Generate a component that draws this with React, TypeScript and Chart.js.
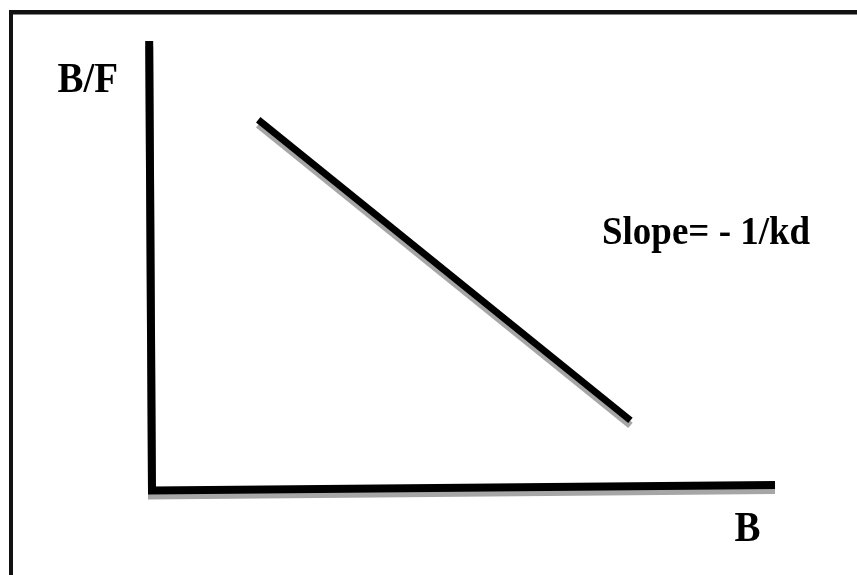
import React, { useEffect, useRef } from "react";
import { Chart, registerables } from "chart.js";

Chart.register(...registerables);

// Axes drawn as one polyline: top of the B/F axis -> origin -> right end of the B axis
const axisXs = [-0.45, 0, 100];
const axisYs = [100, 0, 1.2];

// Scatchard line (B/F vs B)
const lineXs = [17.05, 76.8];
const lineYs = [82.5, 15.6];

const yTitle = "B/F";
const xTitle = "B";
const slopeText = "Slope= - 1/kd";

const W = 857;
const H = 575;

const toPts = (xs: number[], ys: number[]) => xs.map((x, i) => ({ x, y: ys[i] }));

const decorPlugin = {
  id: "decor",
  beforeDraw(chart: any) {
    const ctx = chart.ctx as CanvasRenderingContext2D;
    ctx.save();
    ctx.fillStyle = "#ffffff";
    ctx.fillRect(0, 0, W, H);
    ctx.fillStyle = "#111111";
    ctx.fillRect(9, 10, W - 9, 4.5);
    ctx.fillRect(9, 10, 4, H - 10);
    ctx.restore();
  },
  beforeDatasetsDraw(chart: any) {
    const ctx = chart.ctx as CanvasRenderingContext2D;
    ctx.save();
    ctx.shadowColor = "#a6a6a6";
    ctx.shadowOffsetX = 0;
    ctx.shadowOffsetY = 5;
    ctx.shadowBlur = 0;
  },
  afterDatasetsDraw(chart: any) {
    chart.ctx.restore();
  },
  afterDraw(chart: any) {
    const ctx = chart.ctx as CanvasRenderingContext2D;
    const draw = (t: string, x: number, y: number, size: number) => {
      ctx.save();
      ctx.translate(x, y);
      ctx.scale(1, 1.08);
      ctx.font = `bold ${size}px "Liberation Serif", "Times New Roman", serif`;
      ctx.fillStyle = "#000";
      ctx.textBaseline = "alphabetic";
      ctx.textAlign = "left";
      ctx.fillText(t, 0, 0);
      ctx.restore();
    };
    draw(yTitle, 57.5, 92, 39);
    draw(slopeText, 602, 243.5, 37);
    draw(xTitle, 734.5, 540.5, 39);
  },
};

export default function App() {
  const ref = useRef<HTMLCanvasElement | null>(null);
  useEffect(() => {
    if (!ref.current) return;
    const chart = new Chart(ref.current, {
      type: "scatter",
      data: {
        datasets: [
          {
            label: "axes",
            data: toPts(axisXs, axisYs),
            showLine: true,
            borderColor: "#000",
            borderWidth: 8,
            borderJoinStyle: "miter",
            borderCapStyle: "butt",
            pointRadius: 0,
            clip: false,
          } as any,
          {
            label: "line",
            data: toPts(lineXs, lineYs),
            showLine: true,
            borderColor: "#000",
            borderWidth: 7,
            borderCapStyle: "butt",
            pointRadius: 0,
            clip: false,
          } as any,
        ],
      },
      options: {
        animation: false,
        responsive: false,
        devicePixelRatio: 1,
        layout: { padding: { left: 152, right: W - 775, top: 41, bottom: H - 490.5 } },
        plugins: { legend: { display: false }, tooltip: { enabled: false }, title: { display: false } },
        scales: {
          x: { type: "linear", min: 0, max: 100, display: false },
          y: { type: "linear", min: 0, max: 100, display: false },
        },
      },
      plugins: [decorPlugin],
    });
    return () => chart.destroy();
  }, []);
  return (
    <div style={{ position: "fixed", left: 0, top: 0, width: W, height: H, background: "#fff" }}>
      <canvas ref={ref} width={W} height={H} style={{ display: "block" }} />
    </div>
  );
}
